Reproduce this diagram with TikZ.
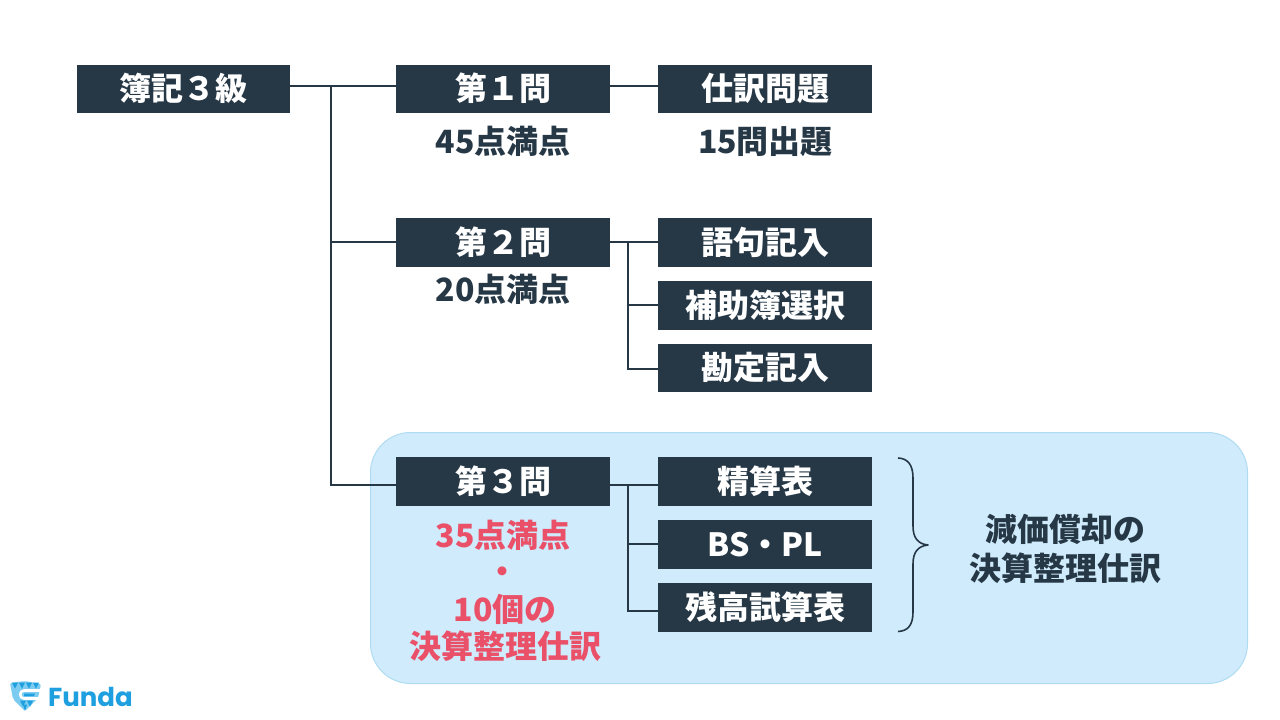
\documentclass[tikz,border=0pt]{standalone}
\usepackage{fontspec}
\setmainfont{Noto Sans CJK JP}
\newfontfamily\logofont{Poppins}
\usetikzlibrary{positioning}
\definecolor{fundadark}{HTML}{263846}
\definecolor{fundapanel}{HTML}{CFEBFC}
\definecolor{fundaedge}{HTML}{AFDCF2}
\definecolor{fundared}{HTML}{EA5068}
\definecolor{fundablue}{HTML}{1E9FE0}
\definecolor{fundasky}{HTML}{7CCBF0}
\tikzset{
    headbox/.style={fill=fundadark, text=white, font=\fontsize{32}{32}\bfseries, minimum width=214pt, minimum height=48.5pt, inner sep=0pt, text height=27.5pt, text depth=4.5pt},
    notetext/.style={text=fundadark, font=\fontsize{32}{32}\bfseries, inner sep=0pt, text height=27.5pt, text depth=4.5pt},
    redtext/.style={notetext, text=fundared},
    branch/.style={draw=fundadark, line width=2pt},
}
\begin{document}
\begin{tikzpicture}[x=1pt, y=-1pt]
    \useasboundingbox (0, 0) rectangle (1280, 720);
    \fill[white] (0, 0) rectangle (1280, 720);

    % Panel behind the third question
    \draw[fill=fundapanel, draw=fundaedge, line width=1pt, rounded corners=40pt] (370.5, 432.5) rectangle (1247.5, 683.5);

    % Boxes
    \node[headbox, minimum width=213pt] (root) at (183.5, 89) {簿記３級};
    \node[headbox] (q1) at (503, 89) {第１問};
    \node[headbox] (q1a) at (765, 89) {仕訳問題};
    \node[headbox] (q2) at (503, 242.5) {第２問};
    \node[headbox] (q2a) at (765, 242.5) {語句記入};
    \node[headbox] (q2b) at (765, 305.5) {補助簿選択};
    \node[headbox] (q2c) at (765, 368) {勘定記入};
    \node[headbox] (q3) at (503, 481.5) {第３問};
    \node[headbox] (q3a) at (765, 481.5) {精算表};
    \node[headbox] (q3b) at (765, 544.5) {BS・PL};
    \node[headbox] (q3c) at (765, 607.5) {残高試算表};

    % Notes
    \node[notetext] (n1) at (503, 142) {45点満点};
    \node[notetext] (n1a) at (765.5, 142) {15問出題};
    \node[notetext] (n2) at (503, 290) {20点満点};
    \node[redtext] (n3) at (503, 536) {35点満点};
    \node[redtext] (n3dot) at (502, 572) {・};
    \node[redtext] (n3b) at (505, 610) {10個の};
    \node[redtext] (n3c) at (505, 647) {決算整理仕訳};
    \node[notetext] (s1) at (1065, 530) {減価償却の};
    \node[notetext] (s2) at (1065, 569) {決算整理仕訳};

    % Trunk
    \coordinate (trunk) at (331, 85.5);
    \draw[branch] ([yshift=3.5pt]root.east) -- ([yshift=3.5pt]q1.west);
    \draw[branch] (trunk) |- ([yshift=0.8pt]q2.west);
    \draw[branch] (trunk) |- ([yshift=-3.5pt]q3.west);

    % Second question
    \coordinate (fork2) at (628, 241.7);
    \draw[branch] ([yshift=3.5pt]q1.east) -- ([yshift=3.5pt]q1a.west);
    \draw[branch] ([yshift=0.8pt]q2.east) -- ([yshift=0.8pt]q2a.west);
    \draw[branch] (fork2) |- ([yshift=1pt]q2b.west);
    \draw[branch] (fork2) |- ([yshift=-1pt]q2c.west);

    % Third question
    \coordinate (fork3) at (628, 485);
    \draw[branch] ([yshift=-3.5pt]q3.east) -- ([yshift=-3.5pt]q3a.west);
    \draw[branch] (fork3) |- ([yshift=0.5pt]q3b.west);
    \draw[branch] (fork3) |- ([yshift=-3.5pt]q3c.west);

    % Brace
    \draw[fundadark, line width=1.6pt, line join=round] (898, 458) .. controls (908, 458.5) and (913, 465) .. (913, 478) -- (913, 526) .. controls (913, 538) and (918, 544) .. (928, 545) .. controls (918, 546) and (913, 552) .. (913, 564) -- (913, 612) .. controls (913, 625) and (908, 631) .. (898, 631.5);

    % Logo
    \fill[fundasky, rounded corners=2pt] (10, 683) -- (25, 681) -- (41, 684) -- (38, 698) -- (25, 711) -- (13, 699) -- cycle;
    \foreach \x in {12, 19, 26, 33} {
        \fill[fundablue] (\x, 682.5) -- (\x+6, 682.5) -- (\x+3, 688.5) -- cycle;
    }
    \foreach \x in {20, 27} {
        \fill[fundablue] (\x, 700.5) -- (\x+6, 700.5) -- (\x+3, 706.5) -- cycle;
    }
    \fill[fundablue] (23, 704.5) -- (27, 704.5) -- (25, 711) -- cycle;
    \draw[white, line width=2.6pt] (41, 690.5) -- (24, 690.5) .. controls (19, 690.5) and (19, 698.5) .. (24, 698.5) -- (38, 698.5);
    \fill[fundablue] (24, 693.5) -- (35, 693.5) -- (34, 696) -- (24, 696) -- cycle;
    \node[text=fundablue, font=\fontsize{26}{26}\logofont\bfseries, inner sep=0pt, anchor=west] (logo) at (48, 697) {Funda};
\end{tikzpicture}
\end{document}
